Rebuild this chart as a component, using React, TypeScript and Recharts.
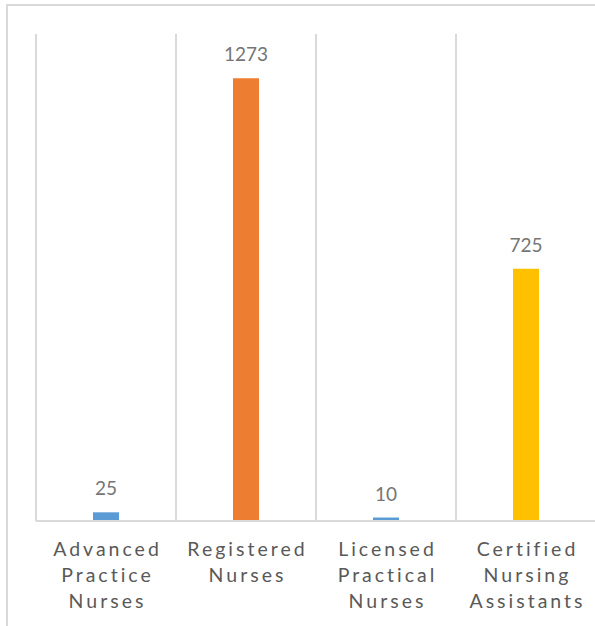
import { Bar, BarChart, XAxis, YAxis, CartesianGrid, Cell, LabelList } from 'recharts';

// categories (one entry per line of the tick label)
const categories = [
  'Advanced\nPractice\nNurses',
  'Registered\nNurses',
  'Licensed\nPractical\nNurses',
  'Certified\nNursing\nAssistants',
];
const counts = [25, 1273, 10, 725];
const barColors = ['#5B9BD5', '#ED7D31', '#5B9BD5', '#FFC000'];

const data = categories.map((name, i) => ({ name, value: counts[i] }));

const GRID = '#d9d9d9';
const TEXT = '#595959';
const FONT = 'Lato, "Noto Sans", sans-serif';

function CategoryTick(props: any) {
  const { x, y, payload } = props;
  const lines = String(payload.value).split('\n');
  return (
    <text
      x={x}
      y={y}
      textAnchor="middle"
      fill={TEXT}
      fontSize={19.5}
      fontFamily={FONT}
      letterSpacing={3}
    >
      {lines.map((line, i) => (
        <tspan key={i} x={x + 1.5} dy={i === 0 ? 35 : 26}>
          {line}
        </tspan>
      ))}
    </text>
  );
}

// vertical lines on the category boundaries, taken from the plot area
const boundaryLines = ({ offset }: any) =>
  Array.from({ length: categories.length + 1 }, (_, i) => offset.left + (i * offset.width) / categories.length);

export default function App() {
  return (
    <div style={{ position: 'absolute', left: 0, top: 0, width: 595, height: 626, overflow: 'hidden', background: '#fff' }}>
      <div
        style={{
          position: 'absolute',
          left: 6,
          top: 4,
          width: 620,
          height: 650,
          border: `2px solid ${GRID}`,
        }}
      />
      <div style={{ position: 'absolute', left: 0, top: 0 }}>
        <BarChart
          width={600}
          height={626}
          data={data}
          margin={{ top: 34, right: 4, left: 36, bottom: 0 }}
        >
          <CartesianGrid
            horizontal={false}
            stroke={GRID}
            strokeWidth={2}
            verticalCoordinatesGenerator={boundaryLines}
          />
          <XAxis
            dataKey="name"
            height={105}
            interval={0}
            axisLine={{ stroke: GRID, strokeWidth: 2 }}
            tickLine={false}
            tickSize={0}
            tickMargin={0}
            tick={<CategoryTick />}
          />
          <YAxis hide domain={[0, 1400]} />
          <Bar dataKey="value" barSize={26} isAnimationActive={false}>
            {data.map((_, i) => (
              <Cell key={`cell-${i}`} fill={barColors[i]} />
            ))}
            <LabelList
              dataKey="value"
              position="top"
              offset={17}
              fill="#757575"
              fontSize={19}
              fontFamily={FONT}
            />
          </Bar>
        </BarChart>
      </div>
    </div>
  );
}
